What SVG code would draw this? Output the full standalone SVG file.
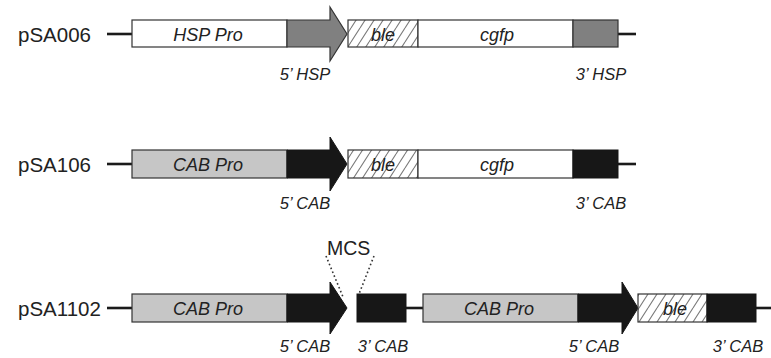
<svg xmlns="http://www.w3.org/2000/svg" width="771" height="358" viewBox="0 0 771 358">
<style>
.box{stroke:#333;stroke-width:1.2}
.wht{fill:#fff}
.grey{fill:#808080}
.lgrey{fill:#c6c6c6}
.blk{fill:#171717;stroke:#171717}
.hatch{fill:url(#hatch)}
.bb{stroke:#1a1a1a;stroke-width:2.6;fill:none}
.dot{stroke:#333;stroke-width:1.6;stroke-dasharray:1.6 2.6;fill:none}
.name{font-family:"Liberation Sans",Arial,sans-serif;font-size:20.5px;fill:#222}
.in{font-family:"Liberation Sans",Arial,sans-serif;font-size:18px;font-style:italic;fill:#222;text-anchor:middle}
.lab{font-family:"Liberation Sans",Arial,sans-serif;font-size:16.5px;font-style:italic;fill:#222;text-anchor:middle}
.mcs{font-family:"Liberation Sans",Arial,sans-serif;font-size:19.5px;fill:#222}
</style>
<defs>
<pattern id="hatch" patternUnits="userSpaceOnUse" width="9" height="14">
<rect width="9" height="14" fill="#fff"/>
<path d="M0,14 L9,0 M-9,14 L0,0 M9,14 L18,0" stroke="#7a7a7a" stroke-width="1.1"/>
</pattern>
</defs>

<g id="connectors">
<line class="bb" x1="107" y1="34" x2="132" y2="34"/>
<line class="bb" x1="618" y1="34" x2="636" y2="34"/>
<line class="bb" x1="107" y1="164" x2="132" y2="164"/>
<line class="bb" x1="618" y1="164" x2="636" y2="164"/>
<line class="bb" x1="107" y1="308" x2="132" y2="308"/>
<line class="bb" x1="406" y1="308" x2="423" y2="308"/>
<line class="bb" x1="756" y1="308" x2="771" y2="308"/>
<line class="dot" x1="326" y1="256" x2="343" y2="297"/>
<line class="dot" x1="374" y1="256" x2="359" y2="294"/>
</g>

<!-- Row 1 -->
<g id="pSA006-label"><text class="name" x="18" y="41.5">pSA006</text></g>
<g id="r1-hsppro"><rect class="box wht" x="132" y="20" width="155" height="27"/><text class="in" x="208" y="40.5">HSP Pro</text></g>
<g id="r1-5hsp"><path class="box grey" d="M287,20 H330 V7 L347,34 L330,61 V47 H287 Z"/><text class="lab" x="305" y="80">5’ HSP</text></g>
<g id="r1-ble"><rect class="box hatch" x="348" y="20" width="70" height="27"/><text class="in" x="383" y="40.5">ble</text></g>
<g id="r1-cgfp"><rect class="box wht" x="418" y="20" width="155" height="27"/><text class="in" x="497" y="40.5">cgfp</text></g>
<g id="r1-3hsp"><rect class="box grey" x="573" y="20" width="45" height="27"/><text class="lab" x="601" y="80">3’ HSP</text></g>

<!-- Row 2 -->
<g id="pSA106-label"><text class="name" x="18" y="171.5">pSA106</text></g>
<g id="r2-cabpro"><rect class="box lgrey" x="132" y="150" width="155" height="28"/><text class="in" x="208" y="170.5">CAB Pro</text></g>
<g id="r2-5cab"><path class="blk" d="M287,150 H330 V137 L347,164 L330,191 V178 H287 Z"/><text class="lab" x="305" y="209">5’ CAB</text></g>
<g id="r2-ble"><rect class="box hatch" x="348" y="150" width="70" height="28"/><text class="in" x="383" y="170.5">ble</text></g>
<g id="r2-cgfp"><rect class="box wht" x="418" y="150" width="155" height="28"/><text class="in" x="497" y="170.5">cgfp</text></g>
<g id="r2-3cab"><rect class="blk" x="573" y="150" width="45" height="28"/><text class="lab" x="601" y="209">3’ CAB</text></g>

<!-- Row 3 -->
<g id="pSA1102-label"><text class="name" x="18" y="315.5">pSA1102</text></g>
<g id="r3-cabpro1"><rect class="box lgrey" x="132" y="294" width="155" height="28"/><text class="in" x="208" y="314.5">CAB Pro</text></g>
<g id="r3-5cab1"><path class="blk" d="M287,294 H330 V282 L347,308 L330,334 V322 H287 Z"/><text class="lab" x="305" y="352">5’ CAB</text></g>
<g id="mcs"><text class="mcs" x="327" y="255">MCS</text></g>
<g id="r3-3cab1"><rect class="blk" x="357" y="294" width="49" height="28"/><text class="lab" x="383" y="352">3’ CAB</text></g>
<g id="r3-cabpro2"><rect class="box lgrey" x="423" y="294" width="155" height="28"/><text class="in" x="499" y="314.5">CAB Pro</text></g>
<g id="r3-5cab2"><path class="blk" d="M578,294 H622 V282 L638,308 L622,334 V322 H578 Z"/><text class="lab" x="594" y="352">5’ CAB</text></g>
<g id="r3-ble"><rect class="box hatch" x="638" y="294" width="69" height="28"/><text class="in" x="675" y="314.5">ble</text></g>
<g id="r3-3cab2"><rect class="blk" x="707" y="294" width="49" height="28"/><text class="lab" x="738" y="352">3’ CAB</text></g>
</svg>
